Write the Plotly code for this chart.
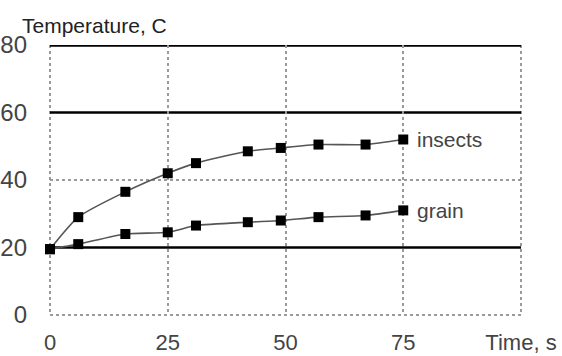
import plotly.graph_objects as go

# ---- data ----
time_s = [0, 6, 16, 25, 31, 42, 49, 57, 67, 75]
insects = [19.5, 29, 36.5, 42, 45, 48.5, 49.5, 50.5, 50.5, 52]
grain = [19.5, 21, 24, 24.5, 26.5, 27.5, 28, 29, 29.5, 31]

x_tickvals = [0, 25, 50, 75, 100]
x_ticktext = ["0", "25", "50", "75", "Time, s"]
y_tickvals = [0, 20, 40, 60, 80]
y_ticktext = ["0", "20", "40", "60", "80"]
strong_lines = [20, 60, 80]   # gridlines drawn as solid black
y_title = "Temperature, C"

FONT = "Liberation Sans, Arial, sans-serif"
GRID = "#9a9a9a"
weak_lines = [v for v in y_tickvals if v not in strong_lines]

fig = go.Figure()

for name, vals in [("insects", insects), ("grain", grain)]:
    fig.add_trace(go.Scatter(
        x=time_s, y=vals, name=name, mode="lines+markers",
        line=dict(color="#555555", width=1.6, shape="spline", smoothing=0.6),
        marker=dict(symbol="square", size=10, color="black"),
        showlegend=False, hoverinfo="skip", cliponaxis=False,
    ))
    fig.add_annotation(
        x=time_s[-1], y=vals[-1], xref="x", yref="y", text=name,
        showarrow=False, xanchor="left", xshift=12, yshift=0,
        font=dict(family=FONT, size=21, color="#444444"),
    )

# dotted frame on left, bottom and right of the plot area
fig.add_shape(type="path", xref="paper", yref="paper",
              path="M 0 1 L 0 0 L 1 0 L 1 1",
              line=dict(color=GRID, width=2, dash="dot"), layer="between")

for v in strong_lines:
    fig.add_shape(type="line", xref="paper", yref="y", x0=0, x1=1, y0=v, y1=v,
                  line=dict(color="black", width=2.4 if v != max(strong_lines) else 3.5),
                  layer="between")

fig.add_annotation(
    x=-0.064, y=1.074, xref="paper", yref="paper", text=y_title,
    showarrow=False, xanchor="left", yanchor="middle",
    font=dict(family=FONT, size=21, color="#222222"),
)

fig.update_layout(
    width=562, height=356,
    margin=dict(l=50, r=41, t=45, b=41, autoexpand=False),
    paper_bgcolor="white", plot_bgcolor="white",
    xaxis=dict(
        range=[0, 100], tickvals=x_tickvals, ticktext=x_ticktext,
        showgrid=True, gridcolor=GRID, gridwidth=2, griddash="dot",
        zeroline=False, showline=False, ticks="", ticklabelstandoff=12,
        tickfont=dict(family=FONT, size=22, color="#444444"),
        automargin=False,
    ),
    yaxis=dict(
        range=[0, 80], tickvals=y_tickvals, ticktext=y_ticktext,
        showgrid=False,
        minor=dict(tickmode="array", tickvals=weak_lines, showgrid=True,
                   gridcolor=GRID, gridwidth=2, griddash="dot", ticks=""),
        zeroline=False, showline=False, ticks="", ticklabelstandoff=22,
        tickfont=dict(family=FONT, size=24, color="#444444"),
        automargin=False,
    ),
)

fig.write_html("out.html", config={"displayModeBar": False},
               post_script="document.body.style.margin='0';document.body.style.padding='0';")
